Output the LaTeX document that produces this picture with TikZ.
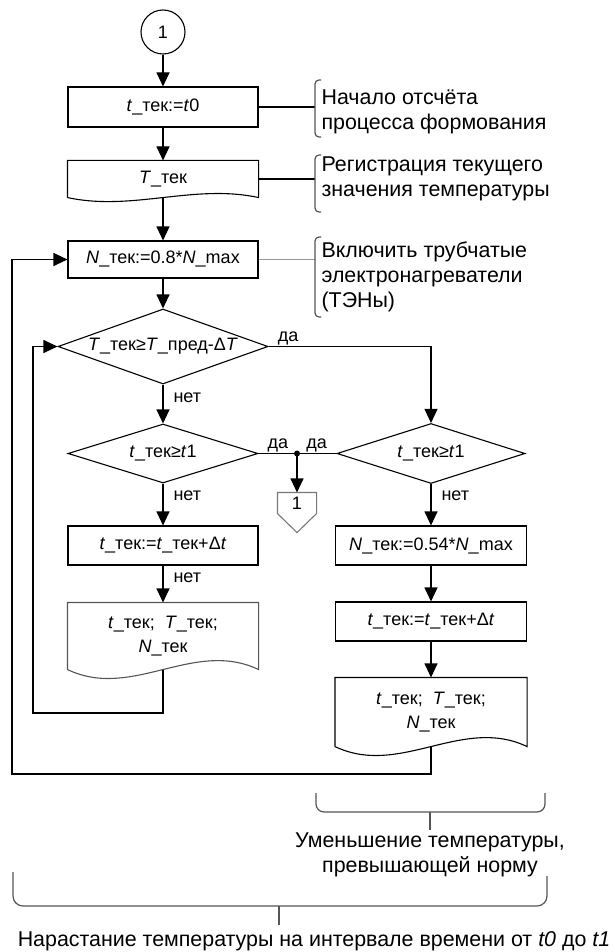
\documentclass[tikz,border=0pt]{standalone}
\usepackage{fontspec}
\setmainfont{Liberation Sans}
\usetikzlibrary{shapes.geometric,arrows.meta,calc}
\definecolor{notegray}{RGB}{85,85,85}
\definecolor{lightline}{RGB}{150,150,150}
\newcommand{\chartfont}{\fontsize{18}{24}\selectfont}
\newcommand{\notefont}{\fontsize{21.4}{25}\selectfont}
% document shape: straight top and sides, wavy bottom
\newcommand{\docpath}[3]{%
  \draw[#3] (#1.south west) -- (#1.north west) -- (#1.north east) -- (#1.south east)
    .. controls +(-65,-#2) and +(65,#2) .. (#1.south west);}

\begin{document}
\begin{tikzpicture}[x=1pt,y=-1pt,>={Triangle[length=14pt,width=13pt]},line width=1.1pt,
    proc/.style={draw,rectangle,minimum width=190pt,minimum height=39pt,inner sep=0pt,font=\chartfont},
    doc/.style={rectangle,minimum width=190pt,inner sep=0pt,font=\chartfont,align=center},
    cond/.style={draw,diamond,aspect=2.8,inner sep=0pt,font=\chartfont},
    lab/.style={font=\chartfont,inner sep=1pt},
    nolab/.style={font=\chartfont,inner sep=1pt,anchor=west,xshift=9pt},
    note/.style={anchor=west,align=left,font=\notefont,inner sep=0pt},
    brk/.style={notegray,line width=1.2pt,rounded corners=4pt}]
    \useasboundingbox (0,0) rectangle (615,952);

    % Left column
    \node[draw,circle,minimum size=44pt,inner sep=0pt,font=\chartfont] (c1) at (163,32) {1};
    \node[proc,minimum height=40pt] (b1) at (163,107) {\textit{t}\_тек:=\textit{t}0};
    \node[doc,minimum height=36pt] (d1) at (163,179) {\textit{T}\_тек};
    \docpath{d1}{14}{}
    \node[proc,minimum height=37pt] (b3) at (163,259.5) {\textit{N}\_тек:=0.8*\textit{N}\_max};
    \node[cond,minimum width=210pt,minimum height=75pt] (q1) at (163,346.5)
        {\textit{T}\_тек≥\textit{T}\_пред-Δ\textit{T}};
    \node[cond,minimum width=190pt,minimum height=59pt] (q2) at (163,453.5) {\textit{t}\_тек≥\textit{t}1};
    \node[proc] (b4) at (163,545.5) {\textit{t}\_тек:=\textit{t}\_тек+Δ\textit{t}};
    \node[doc,minimum height=66pt] (d4) at (163,636) {\textit{t}\_тек;\ \ \textit{T}\_тек;\\\textit{N}\_тек};
    \docpath{d4}{31}{notegray}

    % Right column
    \node[cond,minimum width=188pt,minimum height=60pt] (q3) at (431,453.5) {\textit{t}\_тек≥\textit{t}1};
    \node[proc,minimum width=191pt] (b5) at (431,545.5) {\textit{N}\_тек:=0.54*\textit{N}\_max};
    \node[proc,minimum width=191pt] (b6) at (431,621.5) {\textit{t}\_тек:=\textit{t}\_тек+Δ\textit{t}};
    \node[doc,minimum width=191pt,minimum height=68pt] (d6) at (431,712) {\textit{t}\_тек;\ \ \textit{T}\_тек;\\\textit{N}\_тек};
    \docpath{d6}{31}{}

    % Off-page connector
    \coordinate (j) at (297,453.5);
    \node[minimum width=38pt,minimum height=20pt,inner sep=0pt,font=\chartfont] (p1) at (297,503) {1};
    \draw[lightline!80!black] (p1.south west) -- (p1.north west) -- (p1.north east) -- (p1.south east)
        -- ($(p1.south)+(0,19)$) -- cycle;

    % Flow
    \draw[->] (c1) -- (b1);
    \draw[->] (b1) -- (d1);
    \draw[->] (d1.south) -- (b3);
    \draw[->] (b3) -- (q1);
    \draw[->] (q1.east) -| node[lab,pos=0.06,above]{да} (q3.north);
    \draw[->] (q1) -- node[nolab,pos=0.35]{нет} (q2);
    \draw (q2.east) -- node[lab,above]{да} (j) -- node[lab,above]{да} (q3.west);
    \fill (j) circle (3pt);
    \draw[->] (j) -- (p1.north);
    \draw[->] (q2) -- node[nolab,pos=0.28]{нет} (b4);
    \draw[->] (b4) -- node[nolab,pos=0.32]{нет} (d4);
    \draw[->] (q3) -- node[nolab,pos=0.28]{нет} (b5);
    \draw[->] (b5) -- (b6);
    \draw[->] (b6) -- (d6);

    % Loops
    \coordinate (l1) at (33,713);
    \coordinate (l2) at (12,774);
    \draw[->] (d4.south) |- (l1) |- (q1.west);
    \draw[->] (d6.south) |- (l2) |- (b3.west);

    % Notes
    \coordinate (a1) at (315,0);
    \draw (b1.east) -- (b1.east -| a1);
    \draw[brk] (321,80) -- (315,80) -- (315,137) -- (321,137);
    \node[note] (n1) at (321,112) {Начало отсчёта\\процесса формования};
    \draw (d1.east) -- (d1.east -| a1);
    \draw[brk] (321,155) -- (315,155) -- (315,212) -- (321,212);
    \node[note] (n2) at (321,179) {Регистрация текущего\\значения температуры};
    \draw[lightline] (b3.east) -- (b3.east -| a1);
    \draw[brk] (321,237) -- (315,237) -- (315,317) -- (321,317);
    \node[note] (n3) at (321,277) {Включить трубчатые\\электронагреватели\\(ТЭНы)};

    % Bottom braces
    \draw[brk,rounded corners=8pt] (316,793) -- (316,812) -- (545,812) -- (545,793);
    \draw[notegray,line width=1.2pt] (430,812) -- (430,830);
    \node[note,anchor=center,align=center] (n4) at (430,855) {Уменьшение температуры,\\превышающей норму};
    \draw[brk,rounded corners=10pt] (13,872) -- (13,906) -- (547,906) -- (547,876);
    \draw[notegray,line width=1.2pt] (279,906) -- (279,925);
    \node[note,anchor=center] (n5) at (314,941) {Нарастание температуры на интервале времени от \textit{t0} до \textit{t1}};
\end{tikzpicture}
\end{document}
